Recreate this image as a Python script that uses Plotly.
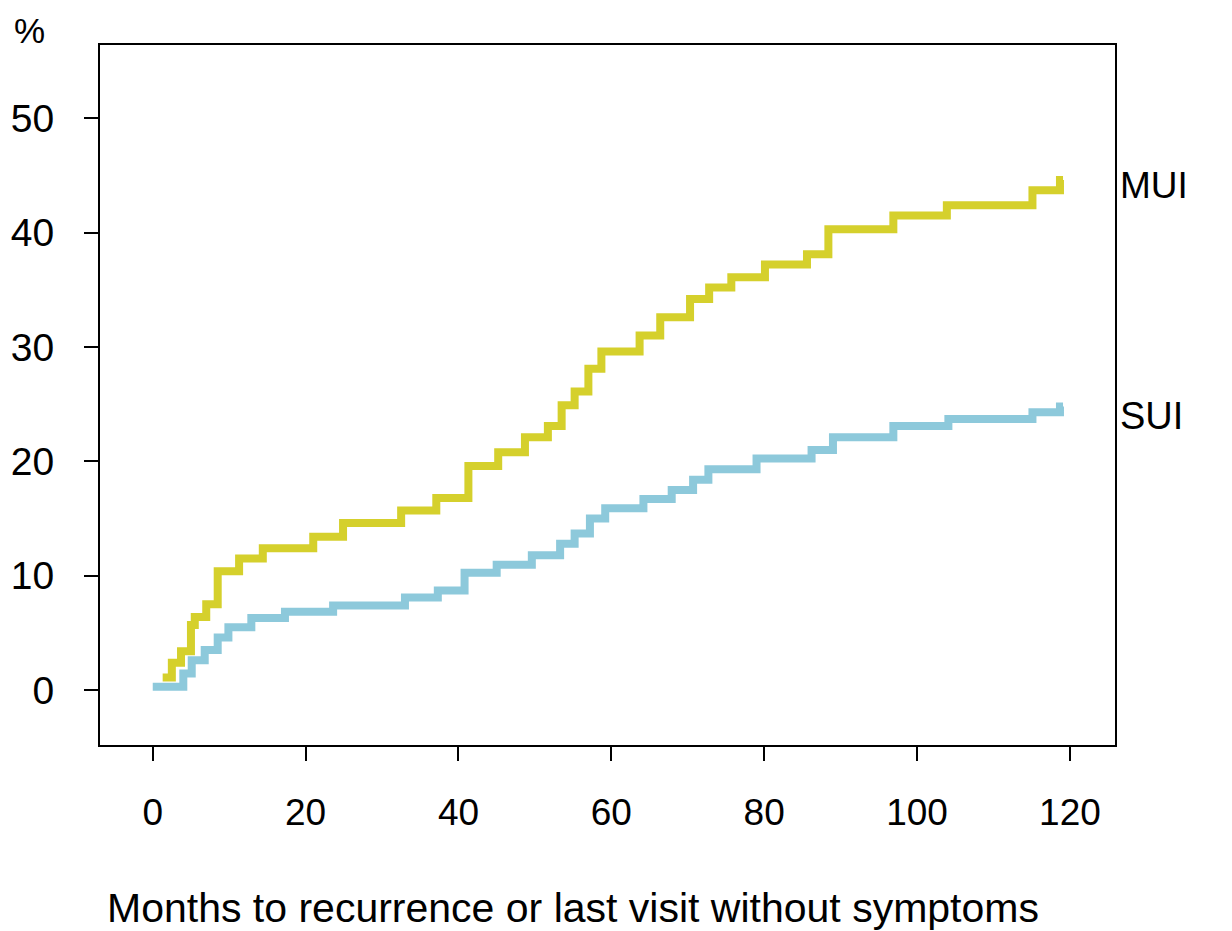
import plotly.graph_objects as go

# MUI (yellow) cumulative recurrence curve
mui_months = [1.3, 2.5, 3.7, 5.0, 5.5, 7.0, 8.5, 11.3, 14.4, 21.0, 24.9, 32.5, 37.1, 41.3,
              45.2, 48.7, 51.7, 53.5, 55.2, 57.0, 58.7, 63.7, 66.4, 70.3, 72.8, 75.7,
              80.1, 85.6, 88.4, 96.9, 103.9, 115.1, 118.7, 119.1]
mui_pct = [1.1, 2.4, 3.4, 5.7, 6.4, 7.5, 10.4, 11.5, 12.4, 13.4, 14.6, 15.7, 16.8, 19.6,
           20.8, 22.1, 23.1, 24.9, 26.1, 28.1, 29.6, 31.0, 32.6, 34.2, 35.2, 36.1,
           37.2, 38.1, 40.3, 41.5, 42.4, 43.7, 44.6, 44.6]

# SUI (blue)
sui_months = [0.0, 4.0, 5.1, 6.8, 8.5, 9.9, 12.9, 17.3, 23.6, 33.0, 37.3, 40.8, 45.0,
              49.6, 53.3, 55.2, 57.2, 59.2, 64.2, 67.9, 70.7, 72.7, 79.0, 86.2, 89.0,
              96.9, 104.1, 115.1, 118.7, 119.1]
sui_pct = [0.3, 1.45, 2.6, 3.5, 4.6, 5.5, 6.3, 6.85, 7.4, 8.1, 8.7, 10.25, 10.95,
           11.8, 12.8, 13.7, 15.0, 15.9, 16.7, 17.5, 18.4, 19.3, 20.25, 21.0, 22.1,
           23.1, 23.7, 24.3, 24.8, 24.8]

x_ticks = [0, 20, 40, 60, 80, 100, 120]
y_ticks = [0, 10, 20, 30, 40, 50]

YELLOW = "#D5D02C"
BLUE = "#8DC9DB"
FONT = "Liberation Sans, Arial, Helvetica, sans-serif"

fig = go.Figure()
fig.add_trace(go.Scatter(x=sui_months, y=sui_pct, mode="lines", line_shape="hv",
                         line=dict(color=BLUE, width=8), name="SUI", showlegend=False))
fig.add_trace(go.Scatter(x=mui_months, y=mui_pct, mode="lines", line_shape="hv",
                         line=dict(color=YELLOW, width=8), name="MUI", showlegend=False))

axis_common = dict(showline=True, mirror=True, linecolor="black", linewidth=2,
                   showgrid=False, zeroline=False, ticks="outside", ticklen=14,
                   tickwidth=2, tickcolor="black", automargin=False)

fig.update_xaxes(range=[-6.9, 125.9], tickvals=x_ticks, ticklabelstandoff=20,
                 tickfont=dict(family=FONT, size=37, color="black"), **axis_common)
fig.update_yaxes(range=[-4.8, 56.4], tickvals=y_ticks, ticklabelstandoff=22,
                 tickfont=dict(family=FONT, size=39, color="black"), **axis_common)

fig.add_annotation(text="MUI", xref="paper", yref="y", x=1.003, y=44.1, xanchor="left",
                   yanchor="middle", showarrow=False, font=dict(family=FONT, size=37, color="black"))
fig.add_annotation(text="SUI", xref="paper", yref="y", x=1.003, y=24.0, xanchor="left",
                   yanchor="middle", showarrow=False, font=dict(family=FONT, size=38, color="black"))
fig.add_annotation(text="%", xref="paper", yref="paper", x=-0.069, y=1.021, xanchor="center",
                   yanchor="middle", showarrow=False, font=dict(family=FONT, size=35, color="black"))
fig.add_annotation(text="Months to recurrence or last visit without symptoms", xref="paper",
                   yref="paper", x=0.466, y=-0.233, xanchor="center", yanchor="middle",
                   showarrow=False, font=dict(family=FONT, size=41, color="black"))

fig.update_layout(width=1224, height=923, margin=dict(l=92, r=117, t=37, b=186),
                  plot_bgcolor="white", paper_bgcolor="white",
                  font=dict(family=FONT, color="black"))

fig.write_html("out.html")
